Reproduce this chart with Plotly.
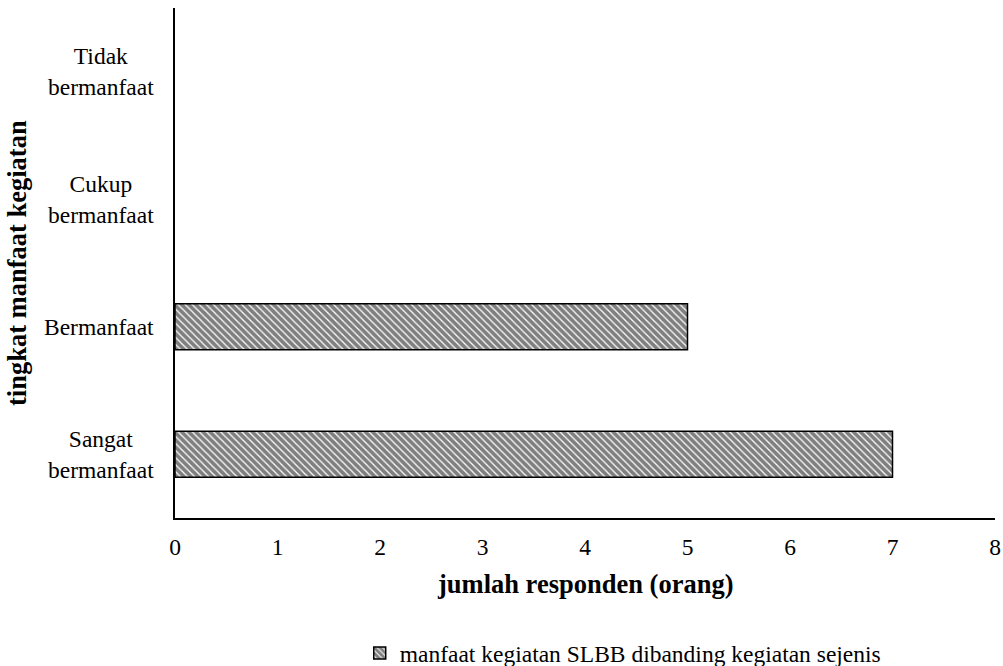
import plotly.graph_objects as go

categories = ["Sangat<br>bermanfaat", "Bermanfaat", "Cukup<br>bermanfaat", "Tidak<br>bermanfaat"]
values = [7, 5, 0, 0]
series_name = "manfaat kegiatan SLBB dibanding kegiatan sejenis"
x_ticks = [0, 1, 2, 3, 4, 5, 6, 7, 8]

FONT = "Liberation Serif, Times New Roman, serif"
LBL = 23.5
TTL = 26.5

fig = go.Figure()
fig.add_trace(go.Bar(
    y=categories, x=values, orientation="h", name=series_name,
    width=0.36,
    marker=dict(color="white",
                line=dict(color="black", width=[1.5 if v > 0 else 0 for v in values]),
                pattern=dict(shape="\\", fgcolor="black", bgcolor="white",
                             size=5, solidity=0.75)),
    showlegend=True,
))

for c in categories:
    fig.add_annotation(x=0, xref="paper", y=c, yref="y", text=c, showarrow=False,
                       xanchor="right", xshift=-19, align="center",
                       font=dict(family=FONT, size=LBL, color="black"))

fig.add_annotation(x=0, xref="paper", xshift=-158, xanchor="center",
                   y=0.5, yref="paper", yanchor="middle",
                   text="<b>tingkat manfaat kegiatan</b>", textangle=-90,
                   showarrow=False, font=dict(family=FONT, size=TTL, color="black"))

fig.add_annotation(x=0.5, xref="paper", xanchor="center", y=0, yref="paper",
                   yanchor="middle", yshift=-66,
                   text="<b>jumlah responden (orang)</b>",
                   showarrow=False, font=dict(family=FONT, size=TTL, color="black"))

fig.update_layout(
    width=1003, height=666,
    margin=dict(l=175, r=8, t=8, b=148, autoexpand=False),
    paper_bgcolor="white", plot_bgcolor="white",
    font=dict(family=FONT, color="black", size=LBL),
    bargap=0.64,
    legend=dict(orientation="h", x=0.546, xanchor="center", yref="container",
                y=0.019, yanchor="middle",
                font=dict(family=FONT, size=LBL, color="black"), itemwidth=30),
    xaxis=dict(range=[0, 8], tickvals=x_ticks, showgrid=False, zeroline=False,
               showline=True, linecolor="black", linewidth=1.5,
               ticks="", ticklabelstandoff=7, ticklabeloverflow="allow",
               automargin=False,
               tickfont=dict(family=FONT, size=LBL, color="black")),
    yaxis=dict(categoryorder="array", categoryarray=categories,
               range=[-0.5, 3.5], showticklabels=False, showgrid=False,
               zeroline=False, showline=True, linecolor="black", linewidth=1.5,
               ticks="", automargin=False),
)

fig.write_html("out.html", config={"displayModeBar": False},
               post_script="document.body.style.margin='0';")
